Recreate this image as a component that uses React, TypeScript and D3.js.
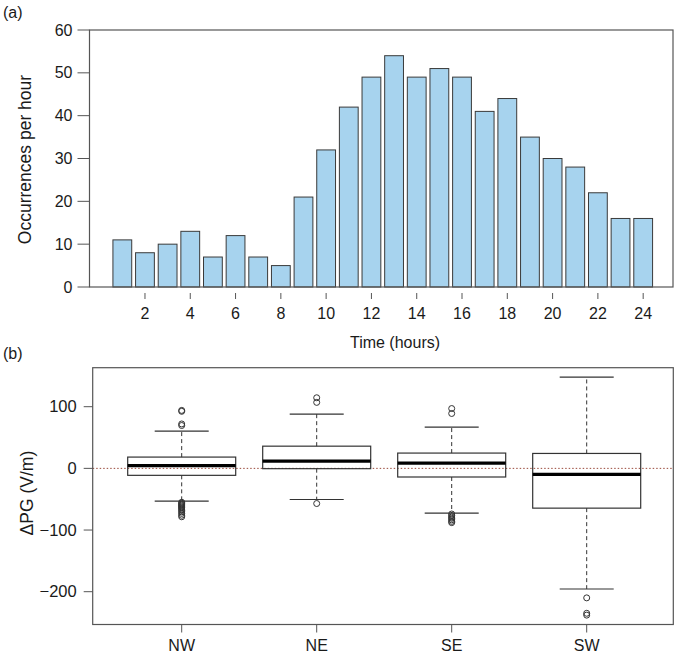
import { useEffect, useRef } from "react";
import * as d3 from "d3";

// (a) hourly occurrences
const hours = [1, 2, 3, 4, 5, 6, 7, 8, 9, 10, 11, 12, 13, 14, 15, 16, 17, 18, 19, 20, 21, 22, 23, 24];
const occurrences = [11, 8, 10, 13, 7, 12, 7, 5, 21, 32, 42, 49, 54, 49, 51, 49, 41, 44, 35, 30, 28, 22, 16, 16];
const hourTicks = [2, 4, 6, 8, 10, 12, 14, 16, 18, 20, 22, 24];
const countTicks = [0, 10, 20, 30, 40, 50, 60];

// (b) ΔPG by wind direction
const directions = ["NW", "NE", "SE", "SW"];
const q1 = [-11.3, -0.5, -14, -64.5];
const medians = [4.4, 11.8, 8.6, -9.7];
const q3 = [18.3, 36, 24.8, 24.2];
const whiskerLow = [-53, -50.5, -72.5, -195.6];
const whiskerHigh = [60.5, 88, 67, 148];
const outliers = [
	[94, 92.5, 72, 69.5, -55, -56.5, -58, -59.5, -61, -62.5, -64, -66, -68, -70.5, -73, -76, -78.5],
	[114.5, 107, -57],
	[97, 89, -74, -76.5, -79, -81, -83.5, -86, -88],
	[-210, -235, -238],
];
const pgTicks = [-200, -100, 0, 100];

const FONT = "'Liberation Sans', Arial, Helvetica, sans-serif";

const App = () => {
	const svgRef = useRef<SVGSVGElement>(null);

	useEffect(() => {
		if (!svgRef.current) return;
		const svg = d3.select(svgRef.current);
		svg.selectAll("*").remove();
		svg.style("font-family", FONT);

		// ---------- panel (a) ----------
		const topBox = { left: 89.5, right: 673, top: 30, bottom: 287 };
		const x = d3
			.scaleBand<number>()
			.domain(hours)
			.range([111, 654.5])
			.paddingInner(0.17)
			.paddingOuter(0.085);
		const y = d3.scaleLinear().domain([0, 60]).range([287, 30]);

		svg.append("text").attr("x", 3).attr("y", 18).attr("font-size", 16).attr("fill", "#1a1a1a").text("(a)");

		const a = svg.append("g");

		a.selectAll("rect.bar")
			.data(occurrences)
			.join("rect")
			.attr("class", "bar")
			.attr("x", (_, i) => x(hours[i])!)
			.attr("width", x.bandwidth())
			.attr("y", (d) => y(d))
			.attr("height", (d) => y(0) - y(d))
			.attr("fill", "#a7d3ee")
			.attr("stroke", "#3a3a3a")
			.attr("stroke-width", 1);

		// frame
		a.append("rect")
			.attr("x", topBox.left)
			.attr("y", topBox.top)
			.attr("width", topBox.right - topBox.left)
			.attr("height", topBox.bottom - topBox.top)
			.attr("fill", "none")
			.attr("stroke", "#555")
			.attr("stroke-width", 1.2);

		// y ticks
		const ya = a.append("g");
		countTicks.forEach((t) => {
			ya.append("line")
				.attr("x1", topBox.left - 12)
				.attr("x2", topBox.left)
				.attr("y1", y(t))
				.attr("y2", y(t))
				.attr("stroke", "#555");
			ya.append("text")
				.attr("x", topBox.left - 17)
				.attr("y", y(t))
				.attr("dy", "0.35em")
				.attr("text-anchor", "end")
				.attr("font-size", 16)
				.attr("fill", "#1a1a1a")
				.text(t);
		});

		// x ticks (floating, R style)
		hourTicks.forEach((h) => {
			const cx = x(h)! + x.bandwidth() / 2;
			a.append("line")
				.attr("x1", cx)
				.attr("x2", cx)
				.attr("y1", 293)
				.attr("y2", 299)
				.attr("stroke", "#555");
			a.append("text")
				.attr("x", cx)
				.attr("y", 319)
				.attr("text-anchor", "middle")
				.attr("font-size", 16)
				.attr("fill", "#1a1a1a")
				.text(h);
		});

		a.append("text")
			.attr("x", 395)
			.attr("y", 348)
			.attr("text-anchor", "middle")
			.attr("font-size", 16)
			.attr("fill", "#1a1a1a")
			.text("Time (hours)");

		a.append("text")
			.attr("transform", `translate(31, ${(topBox.top + topBox.bottom) / 2 + 1}) rotate(-90)`)
			.attr("text-anchor", "middle")
			.attr("font-size", 17.5)
			.attr("fill", "#1a1a1a")
			.text("Occurrences per hour");

		// ---------- panel (b) ----------
		const botBox = { left: 92.7, right: 673.3, top: 367.7, bottom: 624.5 };
		const xb = d3.scalePoint<string>().domain(directions).range([181.7, 586.7]);
		const yb = d3.scaleLinear().domain([-200, 100]).range([591.7, 406.7]);
		const boxW = 108;
		const capW = 54;

		svg.append("text").attr("x", 3).attr("y", 359).attr("font-size", 16).attr("fill", "#1a1a1a").text("(b)");

		const b = svg.append("g");

		// zero reference line
		b.append("line")
			.attr("x1", botBox.left)
			.attr("x2", botBox.right)
			.attr("y1", yb(0))
			.attr("y2", yb(0))
			.attr("stroke", "#9a4a3c")
			.attr("stroke-width", 1)
			.attr("stroke-dasharray", "1.5,2");

		directions.forEach((dir, i) => {
			const cx = xb(dir)!;
			const g = b.append("g");
			// whiskers
			[
				[q3[i], whiskerHigh[i]],
				[q1[i], whiskerLow[i]],
			].forEach(([from, to]) => {
				g.append("line")
					.attr("x1", cx)
					.attr("x2", cx)
					.attr("y1", yb(from))
					.attr("y2", yb(to))
					.attr("stroke", "#333")
					.attr("stroke-dasharray", "4,3");
				g.append("line")
					.attr("x1", cx - capW / 2)
					.attr("x2", cx + capW / 2)
					.attr("y1", yb(to))
					.attr("y2", yb(to))
					.attr("stroke", "#333")
					.attr("stroke-width", 1.2);
			});
			// box
			g.append("rect")
				.attr("x", cx - boxW / 2)
				.attr("width", boxW)
				.attr("y", yb(q3[i]))
				.attr("height", yb(q1[i]) - yb(q3[i]))
				.attr("fill", "none")
				.attr("stroke", "#333")
				.attr("stroke-width", 1.2);
			// median
			g.append("line")
				.attr("x1", cx - boxW / 2)
				.attr("x2", cx + boxW / 2)
				.attr("y1", yb(medians[i]))
				.attr("y2", yb(medians[i]))
				.attr("stroke", "#000")
				.attr("stroke-width", 3.2);
			// outliers
			g.selectAll("circle")
				.data(outliers[i])
				.join("circle")
				.attr("cx", cx)
				.attr("cy", (d) => yb(d))
				.attr("r", 3)
				.attr("fill", "none")
				.attr("stroke", "#333")
				.attr("stroke-width", 1);

			// x tick + label
			b.append("line")
				.attr("x1", cx)
				.attr("x2", cx)
				.attr("y1", botBox.bottom)
				.attr("y2", botBox.bottom + 8)
				.attr("stroke", "#555");
			b.append("text")
				.attr("x", cx)
				.attr("y", 651)
				.attr("text-anchor", "middle")
				.attr("font-size", 16)
				.attr("fill", "#1a1a1a")
				.text(dir);
		});

		// frame
		b.append("rect")
			.attr("x", botBox.left)
			.attr("y", botBox.top)
			.attr("width", botBox.right - botBox.left)
			.attr("height", botBox.bottom - botBox.top)
			.attr("fill", "none")
			.attr("stroke", "#555")
			.attr("stroke-width", 1.2);

		pgTicks.forEach((t) => {
			b.append("line")
				.attr("x1", botBox.left - 9)
				.attr("x2", botBox.left)
				.attr("y1", yb(t))
				.attr("y2", yb(t))
				.attr("stroke", "#555");
			b.append("text")
				.attr("x", botBox.left - 16)
				.attr("y", yb(t))
				.attr("dy", "0.35em")
				.attr("text-anchor", "end")
				.attr("font-size", 16.5)
				.attr("fill", "#1a1a1a")
				.text(t < 0 ? `\u2212${Math.abs(t)}` : `${t}`);
		});

		b.append("text")
			.attr("transform", `translate(33, ${(botBox.top + botBox.bottom) / 2 - 3}) rotate(-90)`)
			.attr("text-anchor", "middle")
			.attr("font-size", 17.5)
			.attr("fill", "#1a1a1a")
			.text("\u0394PG (V/m)");
	}, []);

	return (
		<svg
			ref={svgRef}
			width={678}
			height={654}
			style={{ position: "absolute", left: 0, top: 0, background: "#fff" }}
		/>
	);
};

export default App;
